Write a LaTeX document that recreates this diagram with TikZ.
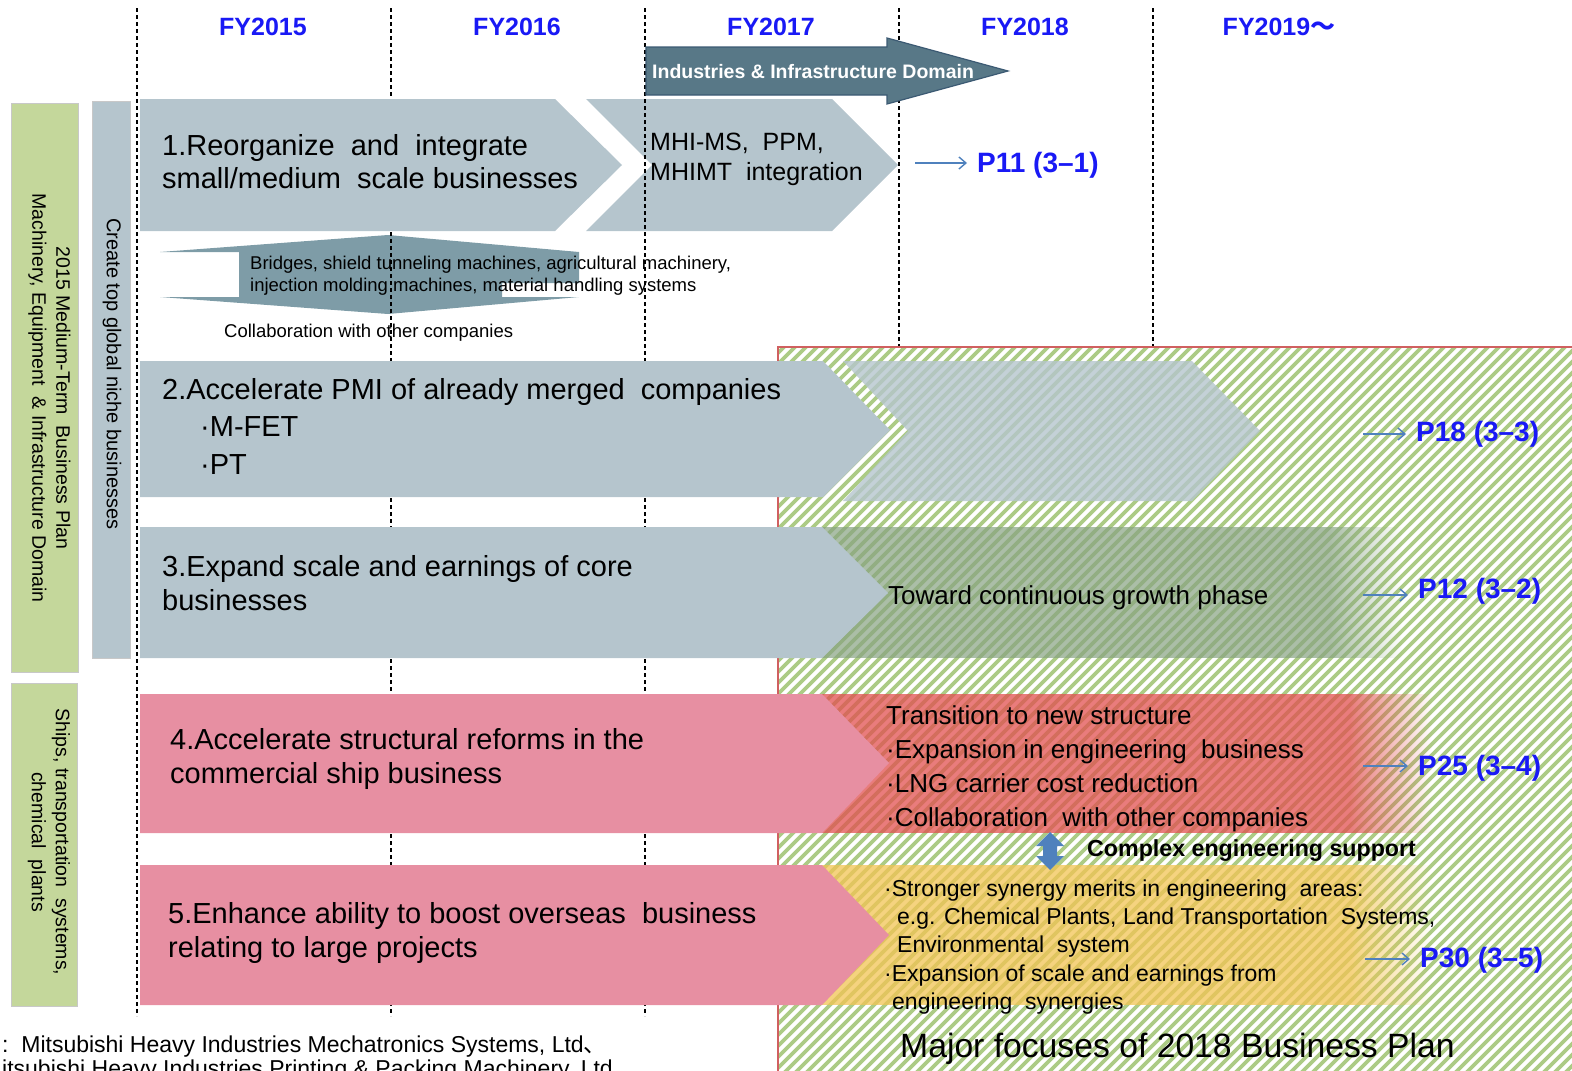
\documentclass[tikz,border=0pt]{standalone}
\usepackage{fontspec}
\setmainfont{Liberation Sans}
\newfontfamily\cjk{Noto Sans CJK JP}
\usetikzlibrary{fadings,arrows.meta,calc}

\definecolor{chevgray}{RGB}{181,197,205}
\definecolor{chevpink}{RGB}{231,143,162}
\definecolor{lblgreen}{RGB}{196,215,155}
\definecolor{lblborder}{RGB}{200,200,200}
\definecolor{fyblue}{RGB}{25,25,245}
\definecolor{darkarrow}{RGB}{88,120,135}
\definecolor{darkarrowb}{RGB}{60,90,115}
\definecolor{bridgeblue}{RGB}{126,156,167}
\definecolor{hatchgreen}{RGB}{172,203,133}
\definecolor{hatchred}{RGB}{208,96,96}
\definecolor{ovgreen}{RGB}{135,163,130}
\definecolor{ovred}{RGB}{225,80,80}
\definecolor{ovorange}{RGB}{242,196,84}
\definecolor{arrowblue}{RGB}{79,129,189}

\tikzfading[name=faderight, left color=transparent!0, right color=transparent!100]

\tikzset{
  dashln/.style={black, line width=1.2pt, dash pattern=on 4pt off 3pt},
  fylbl/.style={font=\bfseries\fontsize{25}{30}\selectfont, text=fyblue, inner sep=0},
  bigtxt/.style={font=\fontsize{29}{34}\selectfont, anchor=west, align=left, inner sep=0},
  midtxt/.style={font=\fontsize{26}{34}\selectfont, anchor=west, align=left, inner sep=0},
  smalltxt/.style={font=\fontsize{18.5}{22}\selectfont, anchor=west, align=left, inner sep=0},
  sidetxt/.style={font=\fontsize{19.5}{24}\selectfont, rotate=-90, align=center, inner sep=0},
  plbl/.style={font=\bfseries\fontsize{28}{32}\selectfont, text=fyblue, anchor=west, inner sep=0},
  parrow/.style={arrowblue, line width=1.4pt, shorten >=10pt, -{Straight Barb[length=7pt,width=12pt]}},
  chev/.style={fill=chevgray},
  pchev/.style={fill=chevpink},
}

\begin{document}
\begin{tikzpicture}[x=1pt,y=-1pt]
\useasboundingbox (0,0) rectangle (1572,1071);
\clip (0,0) rectangle (1572,1071);

% hatched focus area
\begin{scope}
  \clip (778,347) rectangle (1572,1071);
  \foreach \a in {40,51,...,1590} \draw[hatchgreen, line width=3.8pt] (\a,1080) -- ++(745,-745);
\end{scope}
\draw[hatchred, line width=1.6pt] (778,1071) -- (778,347) -- (1572,347);

% row 1 second chevron
\path[chev] (586,99) -- (832,99) -- (898,165) -- (832,231) -- (586,231) -- (652,165) -- cycle;

% bridges up-down arrow
\fill[bridgeblue] (160,252) -- (388,235) -- (579,252) -- (579,283) -- (502,283) -- (502,297)
  -- (579,297) -- (388,314) -- (160,297) -- (239,297) -- (239,252) -- cycle;

% dashed year separators
\foreach \x/\e in {137/1016,391/1016,645/1016,899/346,1153/346}
  \draw[dashln] (\x,8) -- (\x,\e);

% domain arrow
\draw[darkarrowb, fill=darkarrow, line width=1.2pt] (646,47) -- (887,47) -- (887,38) -- (1008,71)
  -- (887,104) -- (887,95) -- (646,95) -- cycle;

% row 1 first chevron
\path[chev] (140,99) -- (555,99) -- (622,165) -- (555,231) -- (140,231) -- cycle;

% overlays in the hatched area
\fill[chevgray, opacity=0.8] (843,361) -- (1192,361) -- (1260,431) -- (1192,501) -- (843,501) -- (908,431) -- cycle;
\fill[ovgreen, opacity=0.7] (800,527) rectangle (1330,658);
\fill[ovgreen, opacity=0.7, path fading=faderight] (1330,527) rectangle (1402,658);
\fill[ovred, opacity=0.75] (800,694) rectangle (1350,833);
\fill[ovred, opacity=0.75, path fading=faderight] (1350,694) rectangle (1432,833);
\fill[ovorange, opacity=0.75] (800,865) rectangle (1350,1005);
\fill[ovorange, opacity=0.75, path fading=faderight] (1350,865) rectangle (1432,1005);

% rows 2-5 chevrons
\path[chev] (140,361) -- (823,361) -- (890,430) -- (823,497) -- (140,497) -- cycle;
\path[chev] (140,527) -- (822,527) -- (888,593) -- (822,658) -- (140,658) -- cycle;
\path[pchev] (140,694) -- (822,694) -- (889,763) -- (822,833) -- (140,833) -- cycle;
\path[pchev] (140,865) -- (822,865) -- (889,935) -- (822,1005) -- (140,1005) -- cycle;

% side label boxes
\draw[lblborder, fill=lblgreen] (11,103) rectangle (78,672);
\draw[lblborder, fill=lblgreen] (11,683) rectangle (77,1006);
\draw[lblborder, fill=chevgray] (92,101) rectangle (130,658);

\node[sidetxt] (side1) at (49.5,398) {2015 Medium-Term\ \ Business Plan\\Machinery, Equipment\ \ \& Infrastructure Domain};
\node[sidetxt] (side2) at (49,842) {Ships, transportation\ \ systems,\\chemical\ \ plants};
\node[sidetxt, font=\fontsize{20}{24}\selectfont] (side3) at (112,374) {Create top global niche businesses};

% year labels
\node[fylbl] (fy15) at (263,27) {FY2015};
\node[fylbl] (fy16) at (517,27) {FY2016};
\node[fylbl] (fy17) at (771,27) {FY2017};
\node[fylbl] (fy18) at (1025,27) {FY2018};
\node[fylbl] (fy19) at (1279,27) {FY2019{\cjk 〜}};

\node[font=\bfseries\fontsize{19.5}{22}\selectfont, text=white, anchor=west, inner sep=0] (dom) at (652,72) {Industries \& Infrastructure Domain};

% row texts
\node[bigtxt, font=\fontsize{29}{33}\selectfont] (r1) at (162,161.5) {1.Reorganize\ \ and\ \ integrate\\small/medium\ \ scale businesses};
\node[font=\fontsize{25}{30}\selectfont, anchor=west, align=left, inner sep=0] (r1b) at (650,159) {MHI-MS,\ \ PPM,\\MHIMT\ \ integration};
\node[smalltxt] (brg) at (250,276) {Bridges, shield tunneling machines, agricultural machinery,\\injection molding machines, material handling systems};
\node[smalltxt] (col) at (224,333) {Collaboration with other companies};

\node[bigtxt] (r2) at (162,392) {2.Accelerate PMI of already merged\ \ companies};
\node[bigtxt] (r2a) at (200,427) {·M-FET};
\node[bigtxt] (r2b) at (200,465) {·PT};
\node[bigtxt] (r3) at (162,583) {3.Expand scale and earnings of core\\businesses};
\node[bigtxt] (r4) at (170,759) {4.Accelerate structural reforms in the\\commercial ship business};
\node[bigtxt] (r5) at (168,933) {5.Enhance ability to boost overseas\ \ business\\relating to large projects};

\node[midtxt] (o3) at (888,598) {Toward continuous growth phase};
\node[midtxt] (o4) at (886,769) {Transition to new structure\\·Expansion in engineering\ \ business\\·LNG carrier cost reduction\\·Collaboration\ \ with other companies};
\node[font=\fontsize{23}{28.3}\selectfont, anchor=west, align=left, inner sep=0] (o5) at (884,947)
  {·Stronger synergy merits in engineering\ \ areas:\\\hspace*{13pt}e.g. Chemical Plants, Land Transportation\ \ Systems,\\\hspace*{13pt}Environmental\ \ system\\·Expansion of scale and earnings from\\\hspace*{8pt}engineering\ \ synergies};

% complex engineering support
\fill[arrowblue] (1050,832) -- (1064,846) -- (1057,846) -- (1057,856) -- (1064,856) -- (1050,870)
  -- (1036,856) -- (1043,856) -- (1043,846) -- (1036,846) -- cycle;
\node[font=\bfseries\fontsize{23.2}{26}\selectfont, anchor=west, inner sep=0] (ces) at (1087,851) {Complex engineering support};

% page references
\node[plbl] (p11) at (977,165) {P11 (3–1)};
\node[plbl] (p18) at (1416,434) {P18 (3–3)};
\node[plbl] (p12) at (1418,591) {P12 (3–2)};
\node[plbl] (p25) at (1418,768) {P25 (3–4)};
\node[plbl] (p30) at (1420,960) {P30 (3–5)};
\coordinate (a11) at (915,163);
\coordinate (a18) at (1363,434);
\coordinate (a12) at (1363,595);
\coordinate (a25) at (1363,766);
\coordinate (a30) at (1365,959);
\draw[parrow] (a11) -- (a11 -| p11.west);
\draw[parrow] (a18) -- (a18 -| p18.west);
\draw[parrow] (a12) -- (a12 -| p12.west);
\draw[parrow] (a25) -- (a25 -| p25.west);
\draw[parrow] (a30) -- (a30 -| p30.west);

\node[font=\fontsize{33.7}{36}\selectfont, anchor=west, inner sep=0] (maj) at (900,1049) {Major focuses of 2018 Business Plan};

\node[font=\fontsize{23}{24}\selectfont, anchor=west, align=left, inner sep=0] (foot) at (2,1059)
  {:\ \ Mitsubishi Heavy Industries Mechatronics Systems, Ltd{\cjk 、}\\itsubishi Heavy Industries Printing \& Packing Machinery, Ltd};
\end{tikzpicture}
\end{document}
